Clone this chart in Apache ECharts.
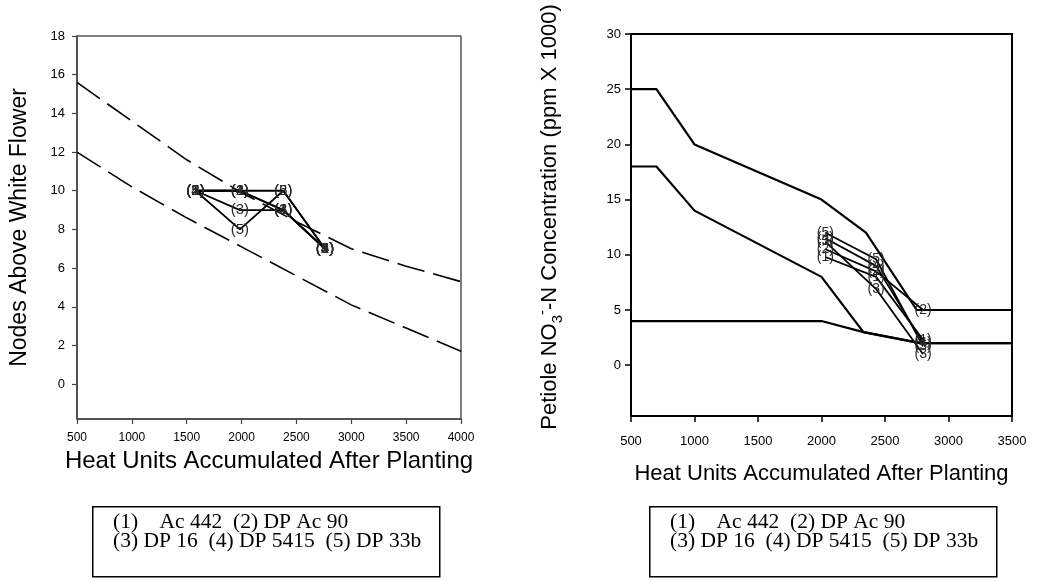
<!DOCTYPE html>
<html>
<head>
<meta charset="utf-8">
<title>Cotton monitoring charts</title>
<script src="https://cdn.jsdelivr.net/npm/echarts@6/dist/echarts.min.js"></script>
<style>
  html, body { margin: 0; padding: 0; background: #fff; }
  #chart { width: 1037px; height: 582px; }
</style>
</head>
<body>
<div id="chart"></div>
<script>
// ---- Nodes above white flower (left panel) ----
const nawfCurveX = [500, 1000, 1500, 2000, 2500, 3000, 3500, 4000];
const nawfUpper  = [15.6, 13.6, 11.6, 9.9, 8.4, 7.0, 6.1, 5.3];
const nawfLower  = [12.0, 10.2, 8.6, 7.1, 5.6, 4.1, 2.9, 1.7];
const nawfX = [1580, 1985, 2380, 2760];
const nawf1 = [10, 10, 9, 7];
const nawf2 = [10, 10, 10, 7];
const nawf3 = [10, 9, 9, 7];
const nawf4 = [10, 10, 9, 7];
const nawf5 = [10, 8, 10, 7];
const nawfTicksY = [0, 2, 4, 6, 8, 10, 12, 14, 16, 18];

// ---- Petiole nitrate (right panel) ----
const bandUpperX = [500, 700, 1000, 2000, 2350, 2750, 3500];
const bandUpperY = [25, 25, 20, 15, 12, 5, 5];
const bandMidX   = [500, 700, 1000, 2000, 2330, 2780, 3500];
const bandMidY   = [18, 18, 14, 8, 3, 2, 2];
const bandLowX   = [500, 2000, 2330, 2780, 3500];
const bandLowY   = [4, 4, 3, 2, 2];
const no3X = [2030, 2430, 2800];
const no3_1 = [9.8, 8.0, 2.3];
const no3_2 = [10.5, 8.5, 5.0];
const no3_3 = [11.2, 6.9, 1.0];
const no3_4 = [11.5, 9.0, 2.0];
const no3_5 = [12.0, 9.6, 1.7];
const no3TicksY = [0, 5, 10, 15, 20, 25, 30];

const cultivarLines = [
  '(1)    Ac 442  (2) DP Ac 90',
  '(3) DP 16  (4) DP 5415  (5) DP 33b'
];

const SANS = '"Liberation Sans", Arial, sans-serif';
const SERIF = '"Liberation Serif", "Times New Roman", serif';

function pairs(xs, ys) { return xs.map((x, i) => [x, ys[i]]); }
const plain = v => String(v);

function refLine(xIdx, xs, ys, lineStyle) {
  return {
    type: 'line', xAxisIndex: xIdx, yAxisIndex: xIdx,
    data: pairs(xs, ys), symbol: 'none', silent: true, z: 2,
    lineStyle: Object.assign({ color: '#000', width: 2 }, lineStyle)
  };
}

function cultivar(xIdx, xs, ys, tag, fontSize) {
  return {
    type: 'line', xAxisIndex: xIdx, yAxisIndex: xIdx,
    data: pairs(xs, ys), symbol: 'circle', symbolSize: 0.01, showSymbol: true,
    silent: true, z: 3,
    itemStyle: { color: 'rgba(0,0,0,0)' },
    lineStyle: { color: '#000', width: 1.8 },
    label: {
      show: true, position: 'inside', formatter: tag,
      fontFamily: SANS, fontSize: fontSize, color: '#2a2a2a'
    }
  };
}

// Cultivar key boxes under each panel
function keyBox(left) {
  return [
    { type: 'rect', left: left, top: 506, shape: { width: 347, height: 70 },
      style: { fill: '#fff', stroke: '#000', lineWidth: 1.5 } },
    { type: 'text', left: left + 21, top: 511,
      style: { text: cultivarLines.join('\n'), font: '21.5px ' + SERIF, fill: '#000', lineHeight: 19 } }
  ];
}

const chart = echarts.init(document.getElementById('chart'), null, { renderer: 'canvas' });

chart.setOption({
  animation: false,
  backgroundColor: '#fff',
  grid: [
    { left: 77, top: 36, width: 384, height: 383, show: true, borderColor: '#000', borderWidth: 1, backgroundColor: 'transparent' },
    { left: 631, top: 34, width: 381, height: 382, show: true, borderColor: '#000', borderWidth: 2, backgroundColor: 'transparent' }
  ],
  xAxis: [
    {
      gridIndex: 0, type: 'value', min: 500, max: 4000, interval: 500,
      name: 'Heat Units Accumulated After Planting', nameLocation: 'middle', nameGap: 17,
      nameTextStyle: { fontFamily: SANS, fontSize: 24, color: '#000' },
      axisLine: { onZero: false, lineStyle: { color: '#444', width: 1.5 } },
      axisTick: { inside: false, length: 5, lineStyle: { color: '#444', width: 1.2 } },
      axisLabel: { fontFamily: SANS, fontSize: 12, color: '#000', margin: 13, formatter: plain },
      splitLine: { show: false }
    },
    {
      gridIndex: 1, type: 'value', min: 500, max: 3500, interval: 500,
      name: 'Heat Units Accumulated After Planting', nameLocation: 'middle', nameGap: 47,
      nameTextStyle: { fontFamily: SANS, fontSize: 22, color: '#000' },
      axisLine: { onZero: false, lineStyle: { color: '#000', width: 2 } },
      axisTick: { inside: false, length: 6, lineStyle: { color: '#000', width: 1.5 } },
      axisLabel: { fontFamily: SANS, fontSize: 13, color: '#000', margin: 19, formatter: plain },
      splitLine: { show: false }
    }
  ],
  yAxis: [
    {
      gridIndex: 0, type: 'value', min: -1.8, max: 18,
      name: 'Nodes Above White Flower', nameLocation: 'middle', nameGap: 46, nameRotate: 90,
      nameTextStyle: { fontFamily: SANS, fontSize: 23, color: '#000' },
      axisLine: { onZero: false, lineStyle: { color: '#444', width: 1.5 } },
      axisTick: { inside: false, length: 5, customValues: nawfTicksY, lineStyle: { color: '#444', width: 1.2 } },
      axisLabel: { fontFamily: SANS, fontSize: 13, color: '#000', margin: 12, customValues: nawfTicksY, formatter: plain },
      splitLine: { show: false }
    },
    {
      gridIndex: 1, type: 'value', min: -4.6, max: 30,
      name: '{a|Petiole NO}{sub|3}{sup|-}{a|-N Concentration (ppm X 1000)}',
      nameLocation: 'middle', nameGap: 66, nameRotate: 90,
      nameTextStyle: {
        fontFamily: SANS, fontSize: 22, color: '#000',
        padding: [0, 0, 0, 16],
        rich: {
          a: { fontFamily: SANS, fontSize: 22, color: '#000', lineHeight: 30, verticalAlign: 'middle' },
          sub: { fontFamily: SANS, fontSize: 15, color: '#000', lineHeight: 30, verticalAlign: 'bottom' },
          sup: { fontFamily: SANS, fontSize: 15, color: '#000', lineHeight: 30, verticalAlign: 'top' }
        }
      },
      axisLine: { onZero: false, lineStyle: { color: '#000', width: 2 } },
      axisTick: { inside: false, length: 6, customValues: no3TicksY, lineStyle: { color: '#000', width: 1.5 } },
      axisLabel: { fontFamily: SANS, fontSize: 13, color: '#000', margin: 10, customValues: no3TicksY, formatter: plain },
      splitLine: { show: false }
    }
  ],
  series: [
    refLine(0, nawfCurveX, nawfUpper, { width: 1.6, type: [28, 9] }),
    refLine(0, nawfCurveX, nawfLower, { width: 1.6, type: [28, 9] }),
    cultivar(0, nawfX, nawf1, '(1)', 15),
    cultivar(0, nawfX, nawf2, '(2)', 15),
    cultivar(0, nawfX, nawf3, '(3)', 15),
    cultivar(0, nawfX, nawf4, '(4)', 15),
    cultivar(0, nawfX, nawf5, '(5)', 15),

    refLine(1, bandUpperX, bandUpperY, { width: 2.2 }),
    refLine(1, bandMidX, bandMidY, { width: 2.2 }),
    refLine(1, bandLowX, bandLowY, { width: 2.2 }),
    cultivar(1, no3X, no3_1, '(1)', 14),
    cultivar(1, no3X, no3_2, '(2)', 14),
    cultivar(1, no3X, no3_3, '(3)', 14),
    cultivar(1, no3X, no3_4, '(4)', 14),
    cultivar(1, no3X, no3_5, '(5)', 14)
  ],
  graphic: keyBox(92).concat(keyBox(649))
});
</script>
</body>
</html>
